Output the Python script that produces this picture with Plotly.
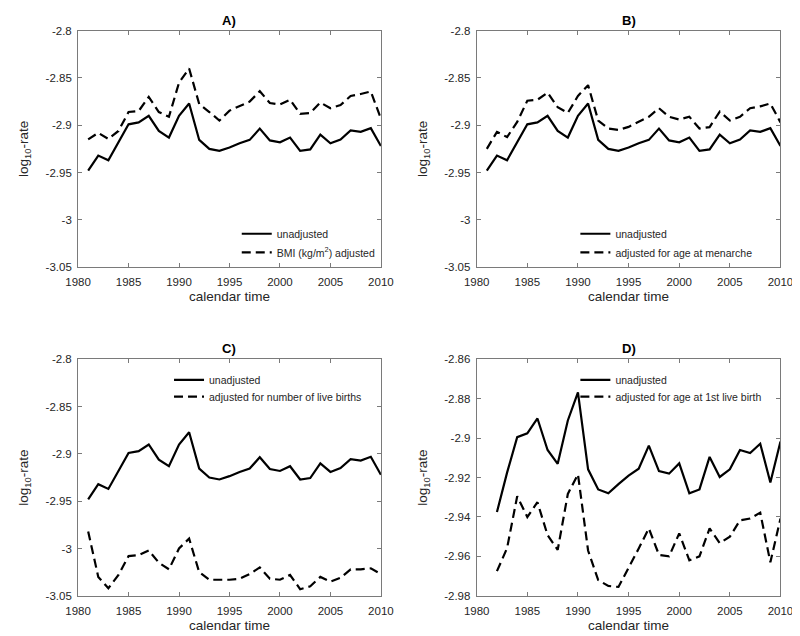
import plotly.graph_objects as go

# ---------------- data ----------------
years = list(range(1981, 2011))
unadjusted = [-2.948, -2.932, -2.937, -2.918, -2.899, -2.897, -2.890, -2.906, -2.913, -2.890,
              -2.877, -2.9155, -2.925, -2.927, -2.9235, -2.919, -2.9155, -2.9035, -2.916, -2.918,
              -2.913, -2.927, -2.9255, -2.910, -2.919, -2.915, -2.9055, -2.907, -2.903, -2.922]
bmi_adjusted = [-2.915, -2.908, -2.9145, -2.906, -2.886, -2.885, -2.870, -2.886, -2.891, -2.855,
                -2.840, -2.8776, -2.886, -2.895, -2.8845, -2.880, -2.875, -2.864, -2.8765, -2.878,
                -2.873, -2.888, -2.887, -2.876, -2.882, -2.8786, -2.869, -2.867, -2.8643, -2.893]
menarche_adjusted = [-2.925, -2.907, -2.9125, -2.8965, -2.874, -2.873, -2.8655, -2.881, -2.887, -2.869,
                     -2.8576, -2.895, -2.9035, -2.905, -2.9017, -2.8965, -2.891, -2.882, -2.891, -2.894,
                     -2.891, -2.9035, -2.902, -2.8855, -2.895, -2.891, -2.882, -2.880, -2.877, -2.897]
livebirths_adjusted = [-2.982, -3.030, -3.042, -3.028, -3.008, -3.007, -3.002, -3.015, -3.022, -3.000,
                       -2.9895, -3.025, -3.033, -3.033, -3.033, -3.032, -3.027, -3.020, -3.032, -3.033,
                       -3.028, -3.043, -3.040, -3.030, -3.035, -3.031, -3.022, -3.022, -3.021, -3.027]

years_d = list(range(1982, 2011))
unadjusted_d = [-2.9375, -2.9175, -2.8995, -2.8975, -2.890, -2.906, -2.913, -2.891, -2.8767, -2.9158,
                -2.926, -2.928, -2.9233, -2.919, -2.9155, -2.9038, -2.9167, -2.918, -2.9128, -2.928,
                -2.926, -2.9095, -2.9197, -2.9158, -2.906, -2.9075, -2.9028, -2.9225, -2.9017]
firstbirth_adjusted = [-2.9675, -2.9558, -2.9295, -2.940, -2.9325, -2.9492, -2.9567, -2.9283, -2.9183, -2.957,
                       -2.972, -2.975, -2.9755, -2.966, -2.956, -2.9458, -2.9592, -2.960, -2.9483, -2.962,
                       -2.960, -2.9458, -2.9533, -2.950, -2.9417, -2.9408, -2.9378, -2.963, -2.9408]

x_ticks = [1980, 1985, 1990, 1995, 2000, 2005, 2010]
y_ticks_abc = [-3.05, -3.0, -2.95, -2.9, -2.85, -2.8]
y_ticktext_abc = ["-3.05", "-3", "-2.95", "-2.9", "-2.85", "-2.8"]
y_ticks_d = [-2.98, -2.96, -2.94, -2.92, -2.9, -2.88, -2.86]
y_ticktext_d = ["-2.98", "-2.96", "-2.94", "-2.92", "-2.9", "-2.88", "-2.86"]

panel_titles = ["A)", "B)", "C)", "D)"]
legend_names = [
    ("unadjusted", "BMI (kg/m<sup>2</sup>) adjusted"),
    ("unadjusted", "adjusted for age at menarche"),
    ("unadjusted", "adjusted for number of live births"),
    ("unadjusted", "adjusted for age at 1st live birth"),
]

# ---------------- layout geometry (pixels) ----------------
W, H = 800, 636
FONT = "Liberation Sans, Arial, sans-serif"
TXT = "#262626"
AX = "#7a7a7a"

cols = [(59, 372), (471, 785)]
rows = [(17, 258), (352, 593)]

def px_x(p):
    return p / W

def px_y(p):
    return 1 - p / H

fig = go.Figure()

panels = [
    (years, unadjusted, years, bmi_adjusted, 0, 0, y_ticks_abc, y_ticktext_abc, [-3.05, -2.8]),
    (years, unadjusted, years, menarche_adjusted, 0, 1, y_ticks_abc, y_ticktext_abc, [-3.05, -2.8]),
    (years, unadjusted, years, livebirths_adjusted, 1, 0, y_ticks_abc, y_ticktext_abc, [-3.05, -2.8]),
    (years_d, unadjusted_d, years_d, firstbirth_adjusted, 1, 1, y_ticks_d, y_ticktext_d, [-2.98, -2.86]),
]

legend_rows_offset = [(207, 226), (207, 226), (21, 38), (21, 38)]
legend_text_x = [263, 613, 193, 613]

layout_updates = {}
annotations = []
for i, (xs1, ys1, xs2, ys2, r, c, yt, ytt, yr) in enumerate(panels):
    k = i + 1
    xa = "xaxis" if k == 1 else f"xaxis{k}"
    ya = "yaxis" if k == 1 else f"yaxis{k}"
    xref = "x" if k == 1 else f"x{k}"
    yref = "y" if k == 1 else f"y{k}"
    l1 = f"legend{2 * i + 1}" if 2 * i + 1 > 1 else "legend"
    l2 = f"legend{2 * i + 2}"
    fig.add_trace(go.Scatter(x=xs1, y=ys1, mode="lines", name=legend_names[i][0],
                             line=dict(color="black", width=2.2), xaxis=xref, yaxis=yref, legend=l1))
    fig.add_trace(go.Scatter(x=xs2, y=ys2, mode="lines", name=legend_names[i][1],
                             line=dict(color="black", width=2.2, dash="9px,5px"),
                             xaxis=xref, yaxis=yref, legend=l2))
    x0, x1 = cols[c]
    y0, y1 = rows[r]
    common = dict(showline=True, mirror="ticks", linecolor=AX, linewidth=1, ticks="inside",
                  ticklen=4, tickcolor=AX, showgrid=False, zeroline=False,
                  tickfont=dict(family=FONT, size=11.5, color=TXT))
    layout_updates[xa] = dict(domain=[px_x(x0), px_x(x1)], range=[1980, 2010], anchor=yref,
                              tickvals=x_ticks, ticklabelstandoff=4,
                              title=dict(text="calendar time", standoff=4,
                                         font=dict(family=FONT, size=13.5, color=TXT)),
                              **common)
    layout_updates[ya] = dict(domain=[px_y(y1), px_y(y0)], range=yr, anchor=xref,
                              tickvals=yt, ticktext=ytt, ticklabelstandoff=3,
                              title=dict(text="log<sub>10</sub>-rate", standoff=13,
                                         font=dict(family=FONT, size=13.5, color=TXT)),
                              **common)
    annotations.append(dict(text=f"<b>{panel_titles[i]}</b>", x=(px_x(x0) + px_x(x1)) / 2,
                            y=px_y(y0 - 1), xref="paper", yref="paper", xanchor="center",
                            yanchor="bottom", showarrow=False,
                            font=dict(family=FONT, size=13, color="black")))
    for j, lg in enumerate([l1, l2]):
        ty = y0 + legend_rows_offset[i][j]
        layout_updates[lg] = dict(x=px_x(legend_text_x[i] - 40), y=px_y(ty), xanchor="left",
                                  yanchor="middle", bgcolor="rgba(0,0,0,0)", borderwidth=0,
                                  itemwidth=30,
                                  font=dict(family=FONT, size=10.5, color=TXT))

fig.update_layout(
    width=W, height=H,
    margin=dict(l=0, r=0, t=0, b=0),
    paper_bgcolor="white", plot_bgcolor="white",
    showlegend=True,
    annotations=annotations,
    **layout_updates,
)

fig.write_html("out.html")
